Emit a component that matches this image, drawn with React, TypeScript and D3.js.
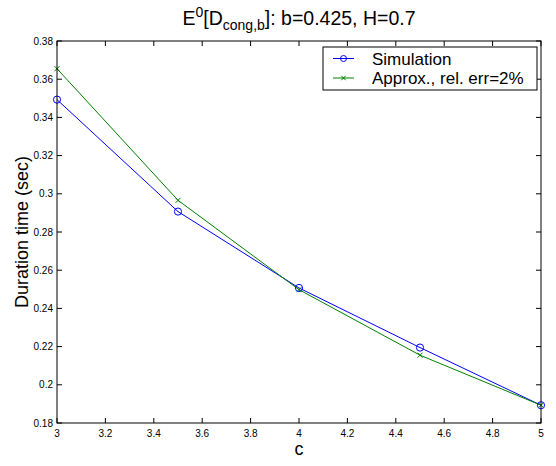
import React from "react";
import * as d3 from "d3";

const cValues = [3, 3.5, 4, 4.5, 5];
const simulation = [0.3493, 0.2907, 0.2507, 0.2195, 0.1893];
const approx = [0.3655, 0.2966, 0.2498, 0.2155, 0.1893];
const xTicks = [3, 3.2, 3.4, 3.6, 3.8, 4, 4.2, 4.4, 4.6, 4.8, 5];
const yTicks = [0.18, 0.2, 0.22, 0.24, 0.26, 0.28, 0.3, 0.32, 0.34, 0.36, 0.38];
const seriesNames = ["Simulation", "Approx., rel. err=2%"];

const W = 556;
const H = 466;
const L = 57, R = 541, T = 41, B = 423;
const FONT = "'Liberation Sans', Arial, Helvetica, sans-serif";

export default function App() {
  const x = d3.scaleLinear().domain([3, 5]).range([L, R]);
  const y = d3.scaleLinear().domain([0.18, 0.38]).range([B, T]);
  const line = d3
    .line<[number, number]>()
    .x((d) => x(d[0]))
    .y((d) => y(d[1]));
  const simPts: [number, number][] = cValues.map((c, i) => [c, simulation[i]]);
  const apxPts: [number, number][] = cValues.map((c, i) => [c, approx[i]]);
  const fmt = (v: number) => String(+v.toFixed(2));
  const tk = 5;
  const blue = "#0000ff";
  const green = "#008000";
  const xMark = (cx: number, cy: number, s: number, color: string, key?: string) => (
    <path
      key={key}
      d={`M${cx - s},${cy - s}L${cx + s},${cy + s}M${cx - s},${cy + s}L${cx + s},${cy - s}`}
      stroke={color}
      strokeWidth={1}
      fill="none"
    />
  );
  const legL = 323, legR = 537, legT = 47, legB = 90;
  const row1 = 58.5, row2 = 78;
  return (
    <svg
      width={W}
      height={H}
      style={{ position: "absolute", left: 0, top: 0, background: "#fff" }}
      fontFamily={FONT}
    >
      <rect x={0} y={0} width={W} height={H} fill="#fff" />
      {/* ticks */}
      {xTicks.map((t) => (
        <g key={"xt" + t}>
          <line x1={x(t)} x2={x(t)} y1={B} y2={B - tk} stroke="#000" />
          <line x1={x(t)} x2={x(t)} y1={T} y2={T + tk} stroke="#000" />
          <text x={x(t)} y={B + 14} fontSize={10} textAnchor="middle" fill="#000">
            {fmt(t)}
          </text>
        </g>
      ))}
      {yTicks.map((t) => (
        <g key={"yt" + t}>
          <line x1={L} x2={L + tk} y1={y(t)} y2={y(t)} stroke="#000" />
          <line x1={R} x2={R - tk} y1={y(t)} y2={y(t)} stroke="#000" />
          <text x={L - 4} y={y(t) + 3.5} fontSize={10} textAnchor="end" fill="#000">
            {fmt(t)}
          </text>
        </g>
      ))}
      {/* data */}
      <path d={line(simPts) || ""} stroke={blue} fill="none" strokeWidth={1} />
      <path d={line(apxPts) || ""} stroke={green} fill="none" strokeWidth={1} />
      {simPts.map((p, i) => (
        <circle key={"c" + i} cx={x(p[0])} cy={y(p[1])} r={3.6} stroke={blue} fill="none" strokeWidth={1} />
      ))}
      {apxPts.map((p, i) => xMark(x(p[0]), y(p[1]), 2.5, green, "x" + i))}
      {/* frame */}
      <rect x={L} y={T} width={R - L} height={B - T} fill="none" stroke="#000" strokeWidth={1} />
      {/* legend */}
      <rect x={legL} y={legT} width={legR - legL} height={legB - legT} fill="#fff" stroke="#000" strokeWidth={1} />
      <line x1={333} x2={354} y1={row1} y2={row1} stroke={blue} />
      <circle cx={343.5} cy={row1} r={3} stroke={blue} fill="none" />
      <line x1={333} x2={354} y1={row2} y2={row2} stroke={green} />
      {xMark(343.5, row2, 2.2, green)}
      <text x={372} y={row1 + 6} fontSize={17} fill="#000">{seriesNames[0]}</text>
      <text x={372} y={row2 + 6} fontSize={17} fill="#000">{seriesNames[1]}</text>
      {/* title */}
      <text x={(L + R) / 2} y={25} fontSize={19.5} textAnchor="middle" fill="#000">
        <tspan>E</tspan>
        <tspan fontSize={14} dy={-8}>0</tspan>
        <tspan dy={8}>[D</tspan>
        <tspan fontSize={14} dy={5}>cong,b</tspan>
        <tspan dy={-5}>]: b=0.425, H=0.7</tspan>
      </text>
      {/* axis labels */}
      <text x={(L + R) / 2} y={455} fontSize={18} textAnchor="middle" fill="#000">c</text>
      <text
        transform={`translate(28,${(T + B) / 2}) rotate(-90)`}
        fontSize={18}
        textAnchor="middle"
        fill="#000"
      >
        Duration time (sec)
      </text>
    </svg>
  );
}
